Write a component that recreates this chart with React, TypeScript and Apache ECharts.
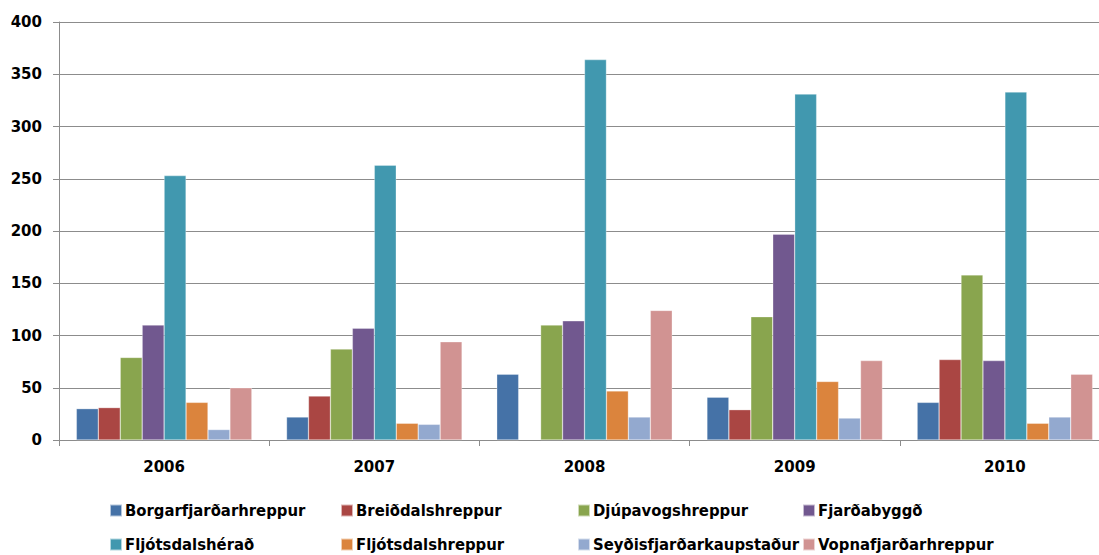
import React, { useEffect, useRef } from "react";
import * as echarts from "echarts";

const years = ["2006", "2007", "2008", "2009", "2010"];
const seriesNames = [
  "Borgarfjarðarhreppur",
  "Breiðdalshreppur",
  "Djúpavogshreppur",
  "Fjarðabyggð",
  "Fljótsdalshérað",
  "Fljótsdalshreppur",
  "Seyðisfjarðarkaupstaður",
  "Vopnafjarðarhreppur",
];
const borgarfjardarhreppur = [30, 22, 63, 41, 36];
const breiddalshreppur = [31, 42, null, 29, 77];
const djupavogshreppur = [79, 87, 110, 118, 158];
const fjardabyggd = [110, 107, 114, 197, 76];
const fljotsdalsherad = [253, 263, 364, 331, 333];
const fljotsdalshreppur = [36, 16, 47, 56, 16];
const seydisfjardarkaupstadur = [10, 15, 22, 21, 22];
const vopnafjardarhreppur = [50, 94, 124, 76, 63];
const yTicks = [0, 50, 100, 150, 200, 250, 300, 350, 400];

const seriesData = [
  borgarfjardarhreppur,
  breiddalshreppur,
  djupavogshreppur,
  fjardabyggd,
  fljotsdalsherad,
  fljotsdalshreppur,
  seydisfjardarkaupstadur,
  vopnafjardarhreppur,
];
const colors = ["#4572A7", "#AA4643", "#89A54E", "#71588F", "#4198AF", "#DB843D", "#93A9CF", "#D19392"];

const legendCols = [109, 340, 577, 802];
const legendRows = [502, 536];

export default function App() {
  const ref = useRef<HTMLDivElement>(null);
  useEffect(() => {
    if (!ref.current) return;
    const chart = echarts.init(ref.current, null, { renderer: "svg" });
    const font = "DejaVu Sans";
    chart.setOption({
      animation: false,
      backgroundColor: "#ffffff",
      color: colors,
      grid: { left: 59, top: 22, width: 1051, height: 418, containLabel: false },
      legend: seriesNames.map((n, i) => ({
        data: [n],
        left: legendCols[i % 4],
        top: legendRows[Math.floor(i / 4)],
        itemWidth: 12,
        itemHeight: 12,
        itemGap: 4,
        icon: "rect",
        padding: 0,
        selectedMode: false,
        textStyle: {
          fontFamily: "DejaVu Sans Condensed, " + font,
          fontWeight: "bold",
          fontSize: 16.5,
          lineHeight: 16,
          color: "#000",
          padding: [0, 0, 0, -2],
        },
      })),
      xAxis: {
        type: "category",
        data: years,
        axisLine: { lineStyle: { color: "#8c8c8c", width: 1 } },
        axisTick: { show: true, length: 6, alignWithLabel: false, lineStyle: { color: "#8c8c8c" } },
        axisLabel: { fontFamily: font, fontWeight: "bold", fontSize: 15, color: "#000", margin: 19 },
        splitLine: { show: false },
      },
      yAxis: {
        type: "value",
        min: yTicks[0],
        max: yTicks[yTicks.length - 1],
        interval: 50,
        axisLine: { show: true, lineStyle: { color: "#8c8c8c", width: 1 } },
        axisTick: { show: true, length: 6, lineStyle: { color: "#8c8c8c" } },
        axisLabel: { fontFamily: font, fontWeight: "bold", fontSize: 15, color: "#000", margin: 17 },
        splitLine: { show: true, lineStyle: { color: "#8c8c8c", width: 1 } },
      },
      series: seriesNames.map((n, i) => ({
        name: n,
        type: "bar",
        data: seriesData[i],
        barGap: "0%",
        barCategoryGap: "16.5%",
        itemStyle: { color: colors[i], borderColor: "rgba(255,255,255,0.6)", borderWidth: 0.5 },
      })),
    });
    return () => chart.dispose();
  }, []);
  return (
    <div style={{ width: 1099, height: 555, position: "absolute", left: 0, top: 0, overflow: "hidden", background: "#fff" }}>
      <div ref={ref} style={{ width: 1120, height: 555 }} />
    </div>
  );
}
